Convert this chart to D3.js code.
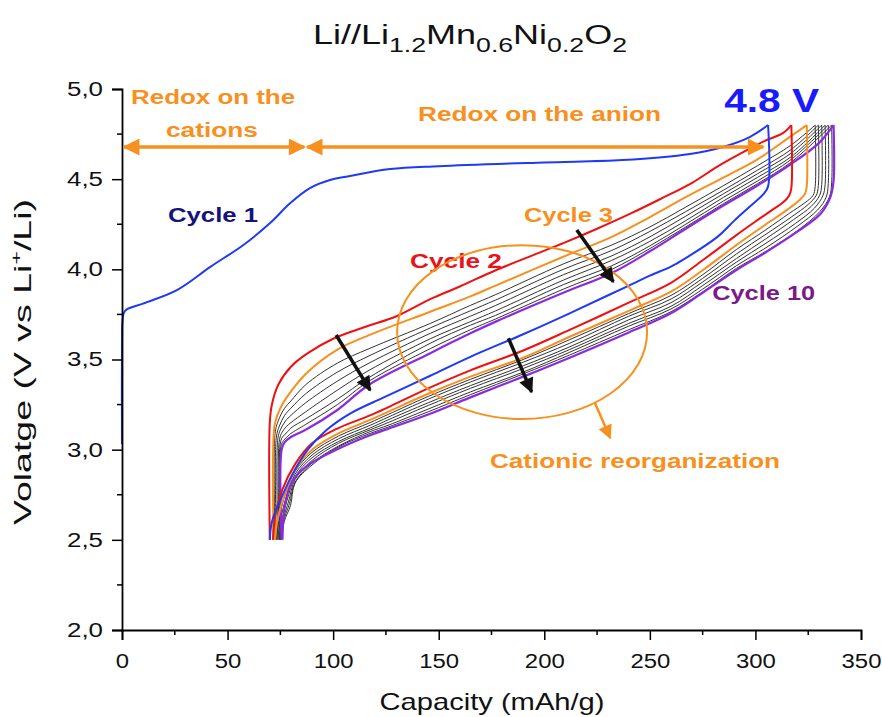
<!DOCTYPE html>
<html>
<head>
<meta charset="UTF-8">
<script src="https://d3js.org/d3.v7.min.js"></script>
<style>
  body { margin: 0; background: #fff; }
  svg { font-family: Arial, "Liberation Sans", sans-serif; }
  .tick-label { font-size: 20px; fill: #111; }
  .note { font-weight: bold; font-size: 20px; }
</style>
</head>
<body>
<div id="chart"></div>
<script>
// ---- data (capacity mAh/g, voltage V) ----
const xTicks = [0, 50, 100, 150, 200, 250, 300, 350];
const yTicks = [2.0, 2.5, 3.0, 3.5, 4.0, 4.5, 5.0];

const cycle1Charge = [[0,3.03],[0,3.6],[0.3,3.72],[1.4,3.77],[10,3.81],[26,3.885],[42,4.015],[57.5,4.135],[70,4.255],[79.6,4.366],[89,4.45],[98.5,4.495],[108,4.518],[127,4.556],[150,4.572],[200,4.593],[237,4.606],[269,4.64],[285,4.68],[297.5,4.735],[306,4.80]];
const cycle1Discharge = [[306,4.80],[306,4.46],[304,4.42],[297.5,4.35],[290,4.27],[282,4.18],[266,4.055],[260,4.015],[250,3.965],[241,3.915],[230,3.855],[212,3.756],[190,3.64],[165,3.515],[146,3.41],[124,3.29],[108,3.2],[97,3.11],[88,3.0],[81,2.87],[75,2.72],[71,2.6],[70,2.5]];

const cycle2Charge = [[70,2.5],[70,3.15],[71,3.25],[74,3.36],[80,3.46],[88,3.535],[100,3.615],[115,3.68],[130,3.74],[146,3.835],[160,3.905],[177,3.995],[195,4.08],[209,4.145],[225,4.225],[241,4.31],[255,4.39],[270,4.48],[282,4.57],[295,4.655],[304,4.71],[313,4.755],[317,4.8]];
const cycle2Discharge = [[317,4.8],[317,4.45],[316,4.41],[313,4.37],[308,4.33],[300,4.265],[291,4.19],[275,4.05],[260,3.925],[240,3.815],[212,3.664],[190,3.55],[165,3.44],[145,3.34],[126,3.235],[117.5,3.19],[102.5,3.12],[90,3.035],[82,2.92],[76,2.78],[72.5,2.63],[71.5,2.5]];

const cycle3Charge = [[71.7,2.5],[71.7,3.05],[72.5,3.15],[75,3.23],[78,3.29],[87,3.42],[102,3.555],[117,3.635],[146,3.765],[165,3.85],[177,3.91],[209,4.07],[232,4.18],[250,4.29],[267,4.40],[285,4.51],[301,4.61],[317,4.74],[324.3,4.8]];
const cycle3Discharge = [[324.3,4.8],[324.3,4.46],[323.5,4.42],[320.5,4.38],[315,4.33],[305,4.25],[291,4.135],[275,3.995],[260,3.876],[240,3.77],[212,3.626],[190,3.51],[165,3.405],[145,3.31],[126,3.21],[117.5,3.165],[102.5,3.09],[90,3.0],[82,2.89],[77,2.75],[73.5,2.6],[72.5,2.5]];

const cycle4Charge = [[72.5,2.5],[72.5,3.09],[74,3.16],[77,3.23],[80,3.27],[87,3.36],[102,3.48],[117,3.56],[146,3.70],[165,3.80],[177,3.86],[209,4.03],[232,4.135],[250,4.235],[267,4.345],[285,4.465],[301,4.575],[317,4.69],[328.3,4.8]];
const cycle4Discharge = [[328.3,4.8],[328.3,4.46],[327.3,4.41],[323.5,4.37],[316,4.31],[305,4.22],[291,4.11],[275,3.97],[260,3.855],[240,3.755],[212,3.61],[190,3.50],[165,3.39],[145,3.295],[126,3.195],[117.5,3.15],[102.5,3.075],[90,2.985],[82,2.88],[77,2.74],[74.2,2.6],[73.1,2.5]];

const cycle5Charge = [[73.1,2.5],[73.1,3.07],[74.5,3.13],[77,3.19],[80,3.23],[87,3.31],[102,3.43],[117,3.52],[146,3.675],[165,3.77],[177,3.83],[209,4.0],[232,4.105],[250,4.21],[267,4.32],[285,4.44],[301,4.55],[317,4.665],[329.8,4.8]];
const cycle5Discharge = [[329.8,4.8],[329.8,4.465],[328.8,4.41],[325,4.36],[317,4.29],[305,4.195],[291,4.085],[275,3.95],[260,3.835],[240,3.74],[212,3.59],[190,3.485],[165,3.375],[145,3.28],[126,3.18],[117.5,3.135],[102.5,3.06],[90,2.97],[82,2.865],[77.6,2.73],[74.9,2.6],[73.8,2.5]];

const cycle6Charge = [[73.8,2.5],[73.8,3.06],[75,3.11],[77.5,3.16],[80,3.19],[87,3.26],[102,3.38],[117,3.48],[146,3.645],[165,3.74],[177,3.80],[209,3.97],[232,4.075],[250,4.18],[267,4.295],[285,4.42],[301,4.53],[317,4.645],[331.4,4.8]];
const cycle6Discharge = [[331.4,4.8],[331.4,4.47],[330.4,4.41],[326.5,4.35],[318,4.275],[305,4.17],[291,4.06],[275,3.93],[260,3.815],[240,3.72],[212,3.57],[190,3.465],[165,3.355],[145,3.26],[126,3.165],[117.5,3.12],[102.5,3.045],[90,2.955],[82,2.85],[78.2,2.72],[75.5,2.6],[74.4,2.5]];

const cycle7Charge = [[74.4,2.5],[74.4,3.04],[75.5,3.09],[78,3.13],[80,3.15],[87,3.21],[102,3.33],[117,3.44],[146,3.615],[165,3.71],[177,3.77],[209,3.94],[232,4.05],[250,4.155],[267,4.27],[285,4.40],[301,4.51],[317,4.625],[333,4.8]];
const cycle7Discharge = [[333,4.8],[333,4.47],[332,4.41],[328,4.34],[319,4.255],[305,4.145],[291,4.04],[275,3.91],[260,3.795],[240,3.70],[212,3.555],[190,3.45],[165,3.34],[145,3.245],[126,3.15],[117.5,3.11],[102.5,3.035],[90,2.94],[82,2.835],[78.8,2.71],[76,2.6],[74.9,2.5]];

const cycle8Charge = [[74.9,2.5],[74.9,3.03],[76,3.07],[78.5,3.10],[80,3.12],[87,3.17],[102,3.28],[117,3.40],[146,3.59],[165,3.69],[177,3.745],[209,3.915],[232,4.02],[250,4.13],[267,4.25],[285,4.38],[301,4.49],[317,4.61],[334.5,4.8]];
const cycle8Discharge = [[334.5,4.8],[334.5,4.475],[333.5,4.40],[329.5,4.33],[320,4.24],[305,4.12],[291,4.02],[275,3.89],[260,3.78],[240,3.685],[212,3.54],[190,3.43],[165,3.32],[145,3.225],[126,3.135],[117.5,3.1],[102.5,3.02],[90,2.925],[82,2.82],[79.3,2.7],[76.4,2.6],[75.3,2.5]];

const cycle9Charge = [[75.3,2.5],[75.3,3.02],[76.5,3.05],[79,3.08],[80,3.09],[87,3.14],[102,3.25],[117,3.38],[146,3.56],[165,3.665],[177,3.725],[209,3.89],[232,4.0],[250,4.115],[267,4.235],[285,4.365],[301,4.475],[317,4.595],[336.1,4.8]];
const cycle9Discharge = [[336.1,4.8],[336.1,4.48],[335,4.40],[330.5,4.32],[320,4.215],[305,4.10],[291,4.005],[275,3.875],[260,3.765],[240,3.665],[212,3.525],[190,3.42],[165,3.305],[145,3.21],[126,3.125],[117.5,3.09],[102.5,3.015],[90,2.915],[82,2.815],[79.8,2.69],[76.8,2.6],[75.6,2.5]];

const cycle10Charge = [[75.6,2.5],[75.6,3.0],[77,3.04],[80,3.07],[87,3.11],[102,3.22],[117,3.36],[146,3.535],[165,3.645],[177,3.71],[209,3.87],[232,3.98],[250,4.10],[267,4.225],[285,4.355],[301,4.465],[317,4.585],[330,4.70],[337,4.8]];
const cycle10Discharge = [[337,4.8],[337,4.49],[335.5,4.40],[331,4.31],[320,4.21],[305,4.095],[291,3.996],[275,3.87],[260,3.756],[240,3.65],[212,3.51],[190,3.405],[165,3.29],[145,3.195],[126,3.115],[117.5,3.08],[102.5,3.005],[87,2.905],[80,2.81],[77,2.68],[76,2.5]];

// draw order: black middle cycles first, coloured ones on top
const curves = [
  { c: cycle4Charge,  col: "#333", w: 1 }, { c: cycle4Discharge,  col: "#333", w: 1 },
  { c: cycle5Charge,  col: "#333", w: 1 }, { c: cycle5Discharge,  col: "#333", w: 1 },
  { c: cycle6Charge,  col: "#333", w: 1 }, { c: cycle6Discharge,  col: "#333", w: 1 },
  { c: cycle7Charge,  col: "#333", w: 1 }, { c: cycle7Discharge,  col: "#333", w: 1 },
  { c: cycle8Charge,  col: "#333", w: 1 }, { c: cycle8Discharge,  col: "#333", w: 1 },
  { c: cycle9Charge,  col: "#333", w: 1 }, { c: cycle9Discharge,  col: "#333", w: 1 },
  { c: cycle10Charge, col: "#8a2be2", w: 2.2 }, { c: cycle10Discharge, col: "#8a2be2", w: 2.2 },
  { c: cycle3Charge,  col: "#f7901e", w: 2 }, { c: cycle3Discharge,  col: "#f7901e", w: 2 },
  { c: cycle2Charge,  col: "#ee1111", w: 2 }, { c: cycle2Discharge,  col: "#ee1111", w: 2 },
  { c: cycle1Charge,  col: "#1f3af5", w: 2 }, { c: cycle1Discharge,  col: "#1f3af5", w: 2 }
];

// annotations in data units
const orangeArrows = [[[1, 4.678], [86.3, 4.678]], [[87.7, 4.678], [303.7, 4.678]]];
const blackArrows  = [[[101.4, 3.636], [117.5, 3.33]], [[215.4, 4.218], [232.7, 3.931]], [[183, 3.618], [194, 3.32]]];
const reorgArrow   = [[224, 3.259], [231.2, 3.065]];
const ellipse      = { cx: 189.5, cy: 3.652, rx: 59.2, ry: 0.482 };

const labels = [
  { t: "Cycle 1",  x: 21.8,  y: 4.262, col: "#141478", len: 90 },
  { t: "Cycle 2",  x: 136.4, y: 4.007, col: "#e8141c", len: 92 },
  { t: "Cycle 3",  x: 190.4, y: 4.262, col: "#f7901e", len: 89 },
  { t: "Cycle 10", x: 279.5, y: 3.83,  col: "#7a1a8a", len: 103 },
  { t: "Redox on the", x: 4.3, y: 4.917, col: "#f7901e", len: 164 },
  { t: "cations",  x: 20.8,  y: 4.734, col: "#f7901e", len: 92 },
  { t: "Redox on the anion", x: 140.2, y: 4.823, col: "#f7901e", len: 243 },
  { t: "Cationic reorganization", x: 174.3, y: 2.898, col: "#f7901e", len: 290 }
];

// ---- layout ----
const width = 882, height = 717;
const x = d3.scaleLinear().domain([0, 350]).range([122, 861]);
const y = d3.scaleLinear().domain([2, 5]).range([630, 89]);

const svg = d3.select("#chart").append("svg")
  .attr("width", width).attr("height", height);

svg.append("rect").attr("width", width).attr("height", height).attr("fill", "#fff");

// arrowheads
const defs = svg.append("defs");
function marker(id, col, w, h) {
  defs.append("marker")
    .attr("id", id).attr("viewBox", "0 0 10 10")
    .attr("refX", 9).attr("refY", 5)
    .attr("markerWidth", w).attr("markerHeight", h)
    .attr("markerUnits", "userSpaceOnUse")
    .attr("orient", "auto-start-reverse")
    .append("path").attr("d", "M0,0 L10,5 L0,10 Z").attr("fill", col);
}
marker("headOrange", "#f7901e", 26, 17);
marker("headBlack", "#111", 20, 15);
marker("headOrangeSmall", "#f7901e", 17, 14);

// curves
const line = d3.line()
  .x(d => x(d[0])).y(d => y(d[1]))
  .curve(d3.curveCatmullRom.alpha(0.5));

svg.append("g").selectAll("path")
  .data(curves).enter().append("path")
    .attr("d", d => line(d.c))
    .attr("fill", "none")
    .attr("stroke", d => d.col)
    .attr("stroke-width", d => d.w)
    .attr("stroke-linejoin", "round");

// axes
const xAxis = d3.axisBottom(x).tickValues(xTicks).tickSize(10).tickFormat(d3.format("d"));
const yAxis = d3.axisLeft(y).tickValues(yTicks).tickSize(10)
  .tickFormat(d => d.toFixed(1).replace(".", ","));

const gx = svg.append("g").attr("transform", `translate(0,${y(2)})`).call(xAxis);
const gy = svg.append("g").attr("transform", `translate(${x(0)},0)`).call(yAxis);

// minor ticks
gx.selectAll(".minor").data(d3.range(25, 350, 50)).enter().append("line")
  .attr("x1", d => x(d)).attr("x2", d => x(d)).attr("y1", 0).attr("y2", 5)
  .attr("stroke", "#000").attr("stroke-width", 1.5);
gy.selectAll(".minor").data(d3.range(2.25, 5, 0.5)).enter().append("line")
  .attr("y1", d => y(d)).attr("y2", d => y(d)).attr("x1", 0).attr("x2", -5)
  .attr("stroke", "#000").attr("stroke-width", 1.5);

[gx, gy].forEach(g => {
  g.select(".domain").attr("stroke", "#000").attr("stroke-width", 1.8);
  g.selectAll(".tick line").attr("stroke", "#000").attr("stroke-width", 1.5);
  g.selectAll(".tick text").attr("class", "tick-label")
    .attr("font-family", null).attr("font-size", null)
    .attr("lengthAdjust", "spacingAndGlyphs");
});
gx.selectAll(".tick text").attr("dy", "1.25em")
  .attr("textLength", d => 13.3 * String(d).length);
gy.selectAll(".tick text").attr("dx", "-0.3em").attr("textLength", 36);

// axis titles
svg.append("text")
  .attr("x", 492).attr("y", 710)
  .attr("text-anchor", "middle").attr("font-size", 24).attr("fill", "#111")
  .attr("textLength", 225).attr("lengthAdjust", "spacingAndGlyphs")
  .text("Capacity (mAh/g)");

const yl = svg.append("text")
  .attr("transform", "translate(31,362) rotate(-90)")
  .attr("text-anchor", "middle").attr("font-size", 24).attr("fill", "#111")
  .attr("textLength", 326).attr("lengthAdjust", "spacingAndGlyphs");
yl.append("tspan").text("Volatge (V vs Li");
yl.append("tspan").attr("font-size", 15).attr("dy", -10).text("+");
yl.append("tspan").attr("dy", 10).text("/Li)");

// title
const title = svg.append("text")
  .attr("x", 470).attr("y", 44)
  .attr("text-anchor", "middle").attr("font-size", 27).attr("fill", "#111")
  .attr("textLength", 314).attr("lengthAdjust", "spacingAndGlyphs");
[["Li//Li", 0], ["1.2", 1], ["Mn", 0], ["0.6", 1], ["Ni", 0], ["0.2", 1], ["O", 0], ["2", 1]]
  .forEach(([s, sub], i, arr) => {
    const prevSub = i > 0 && arr[i - 1][1];
    title.append("tspan")
      .attr("font-size", sub ? 20 : 27)
      .attr("dy", sub ? 8 : (prevSub ? -8 : 0))
      .text(s);
  });

// 4.8 V
svg.append("text")
  .attr("x", x(285.2)).attr("y", y(4.872))
  .attr("font-weight", "bold").attr("font-size", 33).attr("fill", "#1a1aff")
  .attr("textLength", 95).attr("lengthAdjust", "spacingAndGlyphs")
  .text("4.8 V");

// text notes
svg.append("g").selectAll("text")
  .data(labels).enter().append("text")
    .attr("class", "note")
    .attr("x", d => x(d.x)).attr("y", d => y(d.y))
    .attr("fill", d => d.col)
    .attr("textLength", d => d.len)
    .attr("lengthAdjust", "spacingAndGlyphs")
    .text(d => d.t);

// ellipse
svg.append("ellipse")
  .attr("cx", x(ellipse.cx)).attr("cy", y(ellipse.cy))
  .attr("rx", x(ellipse.cx + ellipse.rx) - x(ellipse.cx))
  .attr("ry", y(ellipse.cy - ellipse.ry) - y(ellipse.cy))
  .attr("fill", "none").attr("stroke", "#f7901e").attr("stroke-width", 2);

// orange double arrows
svg.append("g").selectAll("line")
  .data(orangeArrows).enter().append("line")
    .attr("x1", d => x(d[0][0])).attr("y1", d => y(d[0][1]))
    .attr("x2", d => x(d[1][0])).attr("y2", d => y(d[1][1]))
    .attr("stroke", "#f7901e").attr("stroke-width", 3.5)
    .attr("marker-start", "url(#headOrange)")
    .attr("marker-end", "url(#headOrange)");

// black arrows
svg.append("g").selectAll("line")
  .data(blackArrows).enter().append("line")
    .attr("x1", d => x(d[0][0])).attr("y1", d => y(d[0][1]))
    .attr("x2", d => x(d[1][0])).attr("y2", d => y(d[1][1]))
    .attr("stroke", "#111").attr("stroke-width", 3.5)
    .attr("marker-end", "url(#headBlack)");

svg.append("line")
  .attr("x1", x(reorgArrow[0][0])).attr("y1", y(reorgArrow[0][1]))
  .attr("x2", x(reorgArrow[1][0])).attr("y2", y(reorgArrow[1][1]))
  .attr("stroke", "#f7901e").attr("stroke-width", 2.5)
  .attr("marker-end", "url(#headOrangeSmall)");
</script>
</body>
</html>
